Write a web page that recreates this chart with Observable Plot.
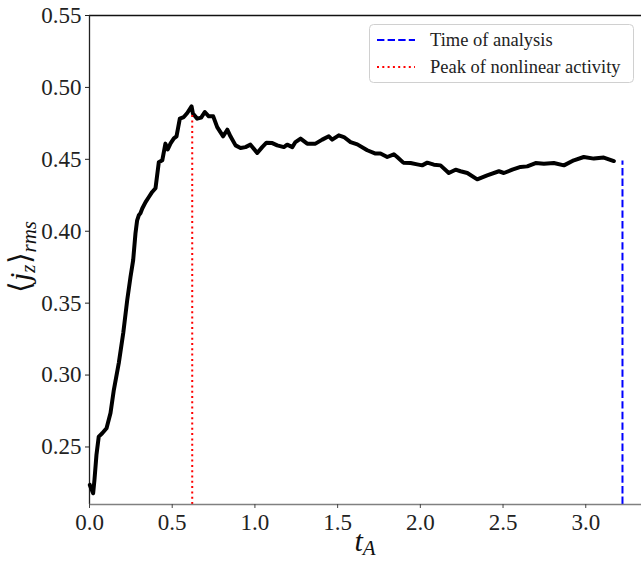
<!DOCTYPE html>
<html>
<head>
<meta charset="utf-8">
<script src="https://cdn.jsdelivr.net/npm/d3@7"></script>
<script src="https://cdn.jsdelivr.net/npm/@observablehq/plot@0.6"></script>
<style>
  html, body { margin: 0; padding: 0; background: white; }
  #chart { width: 641px; height: 562px; overflow: hidden; }
  #chart svg, #chart svg text, #chart svg tspan { font-family: "Liberation Serif", "Times New Roman", serif !important; }
</style>
</head>
<body>
<div id="chart"></div>
<script>
// Time in Alfvén units
const tValues = [0.002, 0.006, 0.022, 0.030, 0.042, 0.056, 0.077, 0.103, 0.127, 0.147,
  0.177, 0.204, 0.228, 0.248, 0.264, 0.278, 0.288, 0.298, 0.308, 0.319,
  0.339, 0.359, 0.379, 0.399, 0.409, 0.419, 0.440, 0.459, 0.473, 0.490,
  0.510, 0.526, 0.546, 0.570, 0.591, 0.617, 0.625, 0.651, 0.675, 0.697,
  0.721, 0.748, 0.772, 0.808, 0.833, 0.852, 0.883, 0.913, 0.943, 0.973,
  1.014, 1.044, 1.070, 1.105, 1.135, 1.175, 1.195, 1.226, 1.245, 1.276,
  1.316, 1.366, 1.407, 1.447, 1.467, 1.507, 1.538, 1.578, 1.619, 1.679,
  1.729, 1.759, 1.800, 1.840, 1.860, 1.897, 1.941, 1.981, 2.011, 2.042,
  2.082, 2.122, 2.172, 2.213, 2.243, 2.284, 2.344, 2.404, 2.475, 2.505,
  2.556, 2.606, 2.646, 2.697, 2.747, 2.807, 2.868, 2.928, 2.988, 3.049,
  3.109, 3.170, 3.221];
// <j_z>_rms
const jValues = [0.2236, 0.2224, 0.2178, 0.2271, 0.2444, 0.2572, 0.2595, 0.2630, 0.2736, 0.2896,
  0.3083, 0.3292, 0.3521, 0.3683, 0.3799, 0.3986, 0.4076, 0.4111, 0.4125, 0.4158,
  0.4203, 0.4238, 0.4273, 0.4299, 0.4389, 0.4479, 0.4493, 0.4609, 0.4569, 0.4611,
  0.4646, 0.4660, 0.4783, 0.4794, 0.4822, 0.4868, 0.4819, 0.4783, 0.4790, 0.4829,
  0.4799, 0.4799, 0.4724, 0.4660, 0.4706, 0.4660, 0.4597, 0.4579, 0.4585, 0.4602,
  0.4544, 0.4585, 0.4616, 0.4613, 0.4597, 0.4585, 0.4602, 0.4585, 0.4620, 0.4644,
  0.4609, 0.4609, 0.4637, 0.4660, 0.4637, 0.4667, 0.4655, 0.4620, 0.4604, 0.4563,
  0.4540, 0.4540, 0.4516, 0.4535, 0.4516, 0.4477, 0.4474, 0.4465, 0.4458, 0.4477,
  0.4463, 0.4458, 0.4405, 0.4428, 0.4417, 0.4405, 0.4361, 0.4389, 0.4417, 0.4405,
  0.4428, 0.4447, 0.4451, 0.4474, 0.4470, 0.4474, 0.4458, 0.4493, 0.4516, 0.4505,
  0.4512, 0.4488];

const peakT = [0.621];
const peakJ = [0.482];
const analysisT = [3.222];
const analysisJ = [0.4488];

const xTicks = [0.0, 0.5, 1.0, 1.5, 2.0, 2.5, 3.0];
const yTicks = [0.25, 0.30, 0.35, 0.40, 0.45, 0.50, 0.55];
const xDomain = [0, 3.337];
const yDomain = [0.21, 0.55];

const legendLabels = ["Time of analysis", "Peak of nonlinear activity"];

const series = tValues.map((t, i) => ({t, j: jValues[i]}));
const peak = peakT.map((t, i) => ({t, j: peakJ[i]}));
const analysis = analysisT.map((t, i) => ({t, j: analysisJ[i]}));

const serif = "Liberation Serif, Times New Roman, serif";

const chart = Plot.plot({
  width: 641,
  height: 562,
  marginLeft: 89,
  marginRight: 0,
  marginTop: 15,
  marginBottom: 58,
  x: {domain: xDomain},
  y: {domain: yDomain},
  style: {fontFamily: serif, fontSize: "23px", color: "#222", background: "white"},
  marks: [
    Plot.ruleY([yDomain[1]], {stroke: "#111", strokeWidth: 1.3}),
    Plot.ruleX([xDomain[0]], {stroke: "#222", strokeWidth: 1.3}),
    Plot.line(series, {x: "t", y: "j", stroke: "black", strokeWidth: 4, strokeLinejoin: "round", strokeLinecap: "round"}),
    Plot.ruleX(peak, {x: "t", y1: () => yDomain[0], y2: "j", stroke: "red", strokeWidth: 2, strokeDasharray: "2,3.3"}),
    Plot.ruleX(analysis, {x: "t", y1: () => yDomain[0], y2: "j", stroke: "blue", strokeWidth: 2, strokeDasharray: "7.4,3.2"}),
    Plot.ruleY([yDomain[0]], {stroke: "#808080", strokeWidth: 1.5}),
    Plot.axisX({ticks: xTicks, tickFormat: d => d.toFixed(1), tickSize: 4, tickPadding: 5, label: null, fontSize: 23, stroke: "#444"}),
    Plot.axisY({ticks: yTicks, tickFormat: d => d.toFixed(2), tickSize: 4, tickPadding: 4, label: null, fontSize: 23, stroke: "#222"})
  ]
});

document.getElementById("chart").appendChild(chart);

const svg = d3.select(chart);
svg.attr("font-family", serif).style("font-family", serif);
svg.selectAll("g[aria-label$='tick label']").attr("font-family", serif).style("font-family", serif)
  .attr("font-variant", null).style("font-variant", "normal");

// y-axis label
const yl = svg.append("text")
  .attr("transform", "translate(30,257) rotate(-90)")
  .attr("text-anchor", "middle")
  .attr("font-size", 30)
  .attr("fill", "#111");
yl.append("tspan").text("⟨");
yl.append("tspan").attr("font-style", "italic").text("j");
yl.append("tspan").attr("font-style", "italic").attr("font-size", 21).attr("dy", 5).text("z");
yl.append("tspan").attr("dy", -5).text("⟩");
yl.append("tspan").attr("font-style", "italic").attr("font-size", 21).attr("dy", 6).text("rms");

// x-axis label
const xl = svg.append("text")
  .attr("x", 365).attr("y", 551)
  .attr("text-anchor", "middle")
  .attr("font-size", 30)
  .attr("fill", "#111");
xl.append("tspan").attr("font-style", "italic").text("t");
xl.append("tspan").attr("font-style", "italic").attr("font-size", 21).attr("dy", 4).text("A");

// legend
const lg = svg.append("g").attr("text-anchor", "start");
lg.append("rect")
  .attr("x", 369.5).attr("y", 24.5).attr("width", 264).attr("height", 58)
  .attr("rx", 4).attr("fill", "white").attr("fill-opacity", 0.85)
  .attr("stroke", "#d0d0d0").attr("stroke-width", 1);
const entries = [
  {label: legendLabels[0], color: "blue", dash: "7.4,3.2", y: 40},
  {label: legendLabels[1], color: "red", dash: "2,3.3", y: 67}
];
entries.forEach(e => {
  lg.append("line")
    .attr("x1", 377).attr("x2", 415).attr("y1", e.y).attr("y2", e.y)
    .attr("stroke", e.color).attr("stroke-width", 2).attr("stroke-dasharray", e.dash);
  lg.append("text")
    .attr("x", 430).attr("y", e.y + 6)
    .attr("text-anchor", "start")
    .attr("font-size", 18.5).attr("fill", "#222")
    .text(e.label);
});
</script>
</body>
</html>
